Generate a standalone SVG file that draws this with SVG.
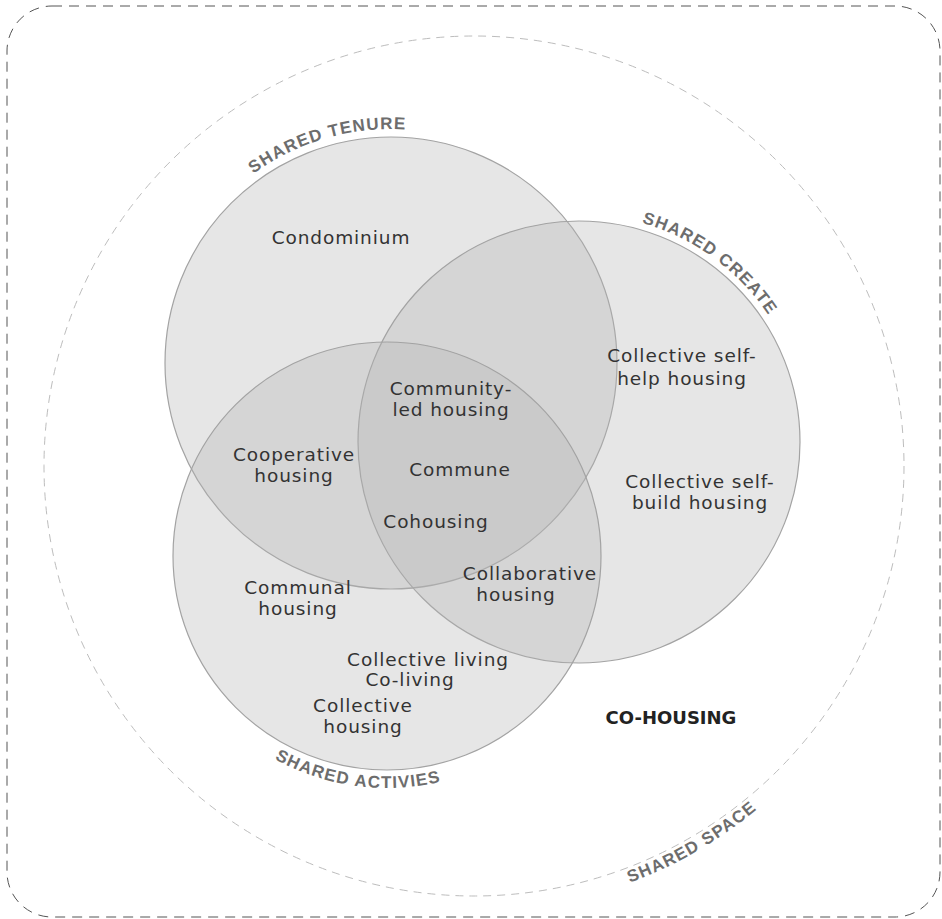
<svg xmlns="http://www.w3.org/2000/svg" width="942" height="919" viewBox="0 0 942 919">
<style>
.frame{fill:none;stroke:#555;stroke-width:1;stroke-dasharray:10 7}
.space{fill:none;stroke:#bdbdbd;stroke-width:1;stroke-dasharray:8 6}
.set{fill:#b4b4b4;fill-opacity:0.33;stroke:#a3a3a3;stroke-width:1.2}
.lbl{font-family:"DejaVu Sans","Liberation Sans",sans-serif;font-size:18.5px;fill:#333;text-anchor:middle;letter-spacing:0.9px}
.arc{font-family:"Liberation Sans","DejaVu Sans",sans-serif;font-weight:bold;font-size:17px;fill:#6d6d6d;letter-spacing:1.2px}
.title{font-family:"DejaVu Sans","Liberation Sans",sans-serif;font-weight:bold;font-size:18px;fill:#222;text-anchor:middle}
</style>
<defs>
<path id="pTenure" d="M 253.5 173.7 A 234 234 0 0 1 508 160.4"/>
<path id="pCreate" d="M 641.8 222.8 A 228 228 0 0 1 803.5 402.4"/>
<path id="pAct" d="M 274.5 758.9 A 232 232 0 0 0 536.1 733.7"/>
<path id="pSpace" d="M 629.8 882.8 A 445 445 0 0 0 859.4 688.5"/>
</defs>
<rect width="942" height="919" fill="#fff"/>
<g id="frame"><rect class="frame" x="7" y="6" width="933" height="911" rx="45" ry="45"/></g>
<g id="shared-space">
<circle class="space" cx="474" cy="466" r="430"/>
<text class="arc"><textPath href="#pSpace">SHARED SPACE</textPath></text>
</g>
<g id="shared-tenure">
<circle class="set" cx="391" cy="363" r="226"/>
<text class="arc"><textPath href="#pTenure">SHARED TENURE</textPath></text>
</g>
<g id="shared-create">
<circle class="set" cx="579" cy="442" r="221"/>
<text class="arc"><textPath href="#pCreate">SHARED CREATE</textPath></text>
</g>
<g id="shared-activities">
<circle class="set" cx="387" cy="556" r="214"/>
<text class="arc"><textPath href="#pAct">SHARED ACTIVIES</textPath></text>
</g>
<g id="connectors"></g>
<g id="condominium"><text class="lbl" x="341" y="244">Condominium</text></g>
<g id="community-led"><text class="lbl" x="451" y="395">Community-</text><text class="lbl" x="451" y="416">led housing</text></g>
<g id="commune"><text class="lbl" x="460" y="476">Commune</text></g>
<g id="cohousing"><text class="lbl" x="436" y="528">Cohousing</text></g>
<g id="cooperative"><text class="lbl" x="294" y="461">Cooperative</text><text class="lbl" x="294" y="482">housing</text></g>
<g id="self-help"><text class="lbl" x="682" y="362">Collective self-</text><text class="lbl" x="682" y="385">help housing</text></g>
<g id="self-build"><text class="lbl" x="700" y="488">Collective self-</text><text class="lbl" x="700" y="509">build housing</text></g>
<g id="collaborative"><text class="lbl" x="530" y="580">Collaborative</text><text class="lbl" x="516" y="601">housing</text></g>
<g id="communal"><text class="lbl" x="298" y="594">Communal</text><text class="lbl" x="298" y="615">housing</text></g>
<g id="collective-living"><text class="lbl" x="428" y="666">Collective living</text><text class="lbl" x="410" y="686">Co-living</text></g>
<g id="collective-housing"><text class="lbl" x="363" y="712">Collective</text><text class="lbl" x="363" y="733">housing</text></g>
<g id="co-housing"><text class="title" x="671" y="724">CO-HOUSING</text></g>
</svg>
